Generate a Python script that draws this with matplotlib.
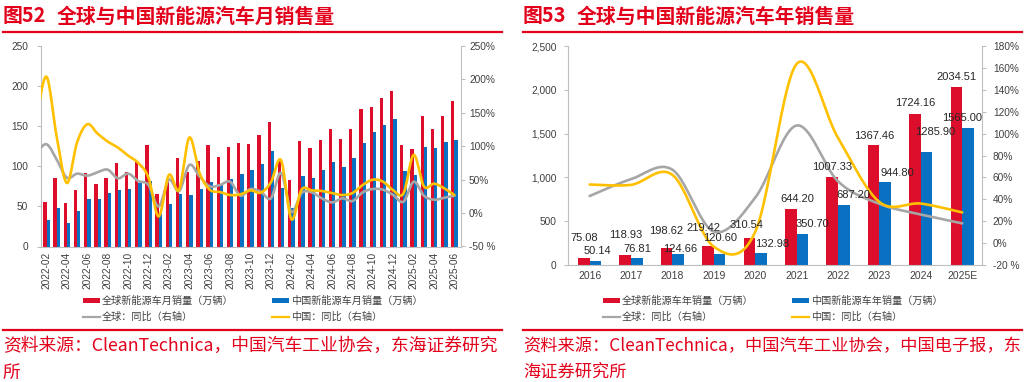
import matplotlib
matplotlib.use("Agg")
import matplotlib.pyplot as plt
import numpy as np
from matplotlib.patches import Rectangle
from matplotlib.lines import Line2D

# ---------------- data: monthly (left) ----------------
months = ["2022-02","2022-03","2022-04","2022-05","2022-06","2022-07","2022-08","2022-09","2022-10","2022-11","2022-12",
          "2023-01","2023-02","2023-03","2023-04","2023-05","2023-06","2023-07","2023-08","2023-09","2023-10","2023-11","2023-12",
          "2024-01","2024-02","2024-03","2024-04","2024-05","2024-06","2024-07","2024-08","2024-09","2024-10","2024-11","2024-12",
          "2025-01","2025-02","2025-03","2025-04","2025-05","2025-06"]
global_monthly = [55, 86, 54.5, 70, 92, 78, 85, 104, 93.5, 105, 126.5,
                  66, 84, 110, 93.5, 106, 126.5, 111, 123.5, 129, 128, 139, 155.5,
                  109, 83, 131.5, 122.5, 132.5, 146, 134.5, 147, 171.5, 174, 185, 193.5,
                  126.5, 121.5, 163, 146, 163, 182]
china_monthly = [33.4, 48.4, 29.9, 44.7, 59.6, 59.3, 66.6, 70.8, 71.4, 78.6, 81.4,
                 40.8, 52.5, 65.3, 63.6, 71.7, 80.6, 78.0, 84.6, 90.4, 95.6, 102.6, 119.1,
                 72.9, 47.7, 88.3, 85.0, 95.5, 104.9, 99.1, 110.0, 128.7, 143.2, 151.2, 159.6,
                 94.4, 89.2, 123.7, 122.6, 130.7, 132.9]
# YoY line series start one month earlier (2022-01); that point falls just outside the plot
yoy_months = ["2022-01"] + months
global_monthly_yoy = [90, 103, 80, 53, 59, 56, 61, 65, 52, 59, 48, 42,
                      10, 50, 33, 72, 55, 40, 42, 47, 26, 36, 32, 22,
                      60, 2, 30, 31, 22, 16, 22, 18, 31, 36, 35, 27,
                      17, 47, 26, 20, 23, 26]
china_monthly_yoy = [141, 204, 114, 45, 106, 133, 119, 107, 98, 86, 75, 53,
                     -5, 57, 35, 113, 60, 35, 31.5, 27, 28, 34, 30.5, 46,
                     79, -9, 35, 34, 33, 30, 27, 30, 42, 50, 47, 34,
                     29.5, 87, 40, 44, 37, 27]

# ---------------- data: annual (right) ----------------
years = ["2016","2017","2018","2019","2020","2021","2022","2023","2024","2025E"]
global_annual = [75.08, 118.93, 198.62, 219.42, 310.54, 644.20, 1007.33, 1367.46, 1724.16, 2034.51]
china_annual = [50.14, 76.81, 124.66, 120.60, 132.98, 350.70, 687.20, 944.80, 1285.90, 1565.00]
global_annual_yoy = [43, 58.4, 67, 10.5, 41.5, 107.4, 56.4, 35.8, 26.1, 18]
china_annual_yoy = [53.5, 53.2, 62.3, -3.3, 10.3, 163.7, 96, 37.5, 36.1, 28]

# label nudges in pixels (dx, dy above bar top)
red_lbl_dx = [0, 0, 0, -5, -3, 6, 0, 1, 0, 0]
red_lbl_dy = [20.5, 19.6, 16.6, 17.5, 12.8, 9.6, 10, 9, 10.6, 9.5]
blue_lbl_dx = [2, 1, 2, 0, 11, 10, 10, 12, 9, -6]
blue_lbl_dy = [10, 9, 5, 16, 9, 10, 10, 9.5, 20, 9.5]

RED = "#DC0E2B"
BLUE = "#0A70C2"
GRAY = "#A6A6A6"
YEL = "#FFC000"
TXT = "#404040"
TITLE_RED = "#E2001A"
CJK = ["Noto Sans CJK SC", "DejaVu Sans"]
NUM = ["Liberation Sans", "DejaVu Sans"]

W, H = 1026, 382
fig = plt.figure(figsize=(W / 100, H / 100), dpi=100)


def fx(px):
    return px / W


def fy(py):
    return 1 - py / H


def smooth(x, y, n=24):
    x = np.asarray(x, float)
    y = np.asarray(y, float)
    P = np.column_stack([x, y])
    out = []
    m = len(P)
    for i in range(m - 1):
        p0 = P[i - 1] if i > 0 else P[i]
        p1 = P[i]
        p2 = P[i + 1]
        p3 = P[i + 2] if i + 2 < m else P[i + 1]
        c1 = p1 + (p2 - p0) / 6.0
        c2 = p2 - (p3 - p1) / 6.0
        t = np.linspace(0, 1, n, endpoint=(i == m - 2))[:, None]
        seg = (1 - t) ** 3 * p1 + 3 * (1 - t) ** 2 * t * c1 + 3 * (1 - t) * t ** 2 * c2 + t ** 3 * p2
        out.append(seg)
    out = np.vstack(out)
    return out[:, 0], out[:, 1]


def style_axes(ax, ax2):
    for a in (ax, ax2):
        a.spines["top"].set_visible(False)
        for s in ("left", "right", "bottom"):
            a.spines[s].set_color("#BFBFBF")
            a.spines[s].set_linewidth(0.8)
    ax.spines["right"].set_visible(False)
    ax2.spines["left"].set_visible(False)
    ax2.spines["bottom"].set_visible(False)


# ================= LEFT PANEL =================
axL = fig.add_axes([fx(40.7), fy(246.5), fx(460.7 - 40.7), (246.5 - 46) / H])
axLr = axL.twinx()
xm = np.arange(len(months))
bw = 0.32
axL.bar(xm - bw / 2, global_monthly, bw, color=RED, zorder=2)
axL.bar(xm + bw / 2, china_monthly, bw, color=BLUE, zorder=2)
xlim = (-0.57, len(months) - 1 + 0.61)
axL.set_xlim(*xlim)
axL.set_ylim(0, 250)
axL.set_yticks(np.arange(0, 251, 50))
axL.set_xticks(xm[::2])
axL.set_xticklabels(months[::2], rotation=90, fontsize=7.3, color=TXT, family=NUM)
axL.tick_params(axis="x", length=0, pad=4)
axL.tick_params(axis="y", length=3, color="#BFBFBF", labelsize=7.3, labelcolor=TXT, pad=6)
for t in axL.get_yticklabels():
    t.set_family(NUM)

xl = np.arange(len(yoy_months)) - 1
gx, gy = smooth(xl, global_monthly_yoy)
cx, cy = smooth(xl, china_monthly_yoy)
axLr.plot(gx, gy, color=GRAY, lw=1.9, zorder=3, solid_capstyle="round")
axLr.plot(cx, cy, color=YEL, lw=1.9, zorder=4, solid_capstyle="round")
axLr.set_xlim(*xlim)
axLr.set_ylim(-50, 250)
axLr.set_yticks(np.arange(-50, 251, 50))
axLr.set_yticklabels(["-50 %"] + [f"{v}%" for v in range(0, 251, 50)])
axLr.tick_params(axis="y", length=3, color="#BFBFBF", labelsize=7.3, labelcolor=TXT, pad=3)
for t in axLr.get_yticklabels():
    t.set_family(NUM)
axL.set_zorder(1)
axLr.set_zorder(2)
axLr.patch.set_visible(False)
style_axes(axL, axLr)

# ================= RIGHT PANEL =================
axR = fig.add_axes([fx(567.7), fy(265), fx(981.7 - 567.7), (265 - 46) / H])
axRr = axR.twinx()
xy = np.arange(len(years))
bw2 = 0.28
axR.bar(xy - bw2 / 2, global_annual, bw2, color=RED, zorder=2)
axR.bar(xy + bw2 / 2, china_annual, bw2, color=BLUE, zorder=2)
axR.set_xlim(-0.53, len(years) - 1 + 0.47)
axR.set_ylim(0, 2500)
axR.set_yticks(np.arange(0, 2501, 500))
axR.set_yticklabels([f"{v:,}" for v in range(0, 2501, 500)])
axR.set_xticks(xy)
axR.set_xticklabels(years, fontsize=7.5, color=TXT, family=NUM)
axR.tick_params(axis="x", length=0, pad=4)
axR.tick_params(axis="y", length=3, color="#BFBFBF", labelsize=7.3, labelcolor=TXT, pad=5)
for t in axR.get_yticklabels():
    t.set_family(NUM)

gx2, gy2 = smooth(xy, global_annual_yoy)
cx2, cy2 = smooth(xy, china_annual_yoy)
axRr.plot(gx2, gy2, color=GRAY, lw=1.9, zorder=3, solid_capstyle="round")
axRr.plot(cx2, cy2, color=YEL, lw=1.9, zorder=4, solid_capstyle="round")
axRr.set_ylim(-20, 180)
axRr.set_yticks(np.arange(-20, 181, 20))
axRr.set_yticklabels(["-20 %"] + [f"{v}%" for v in range(0, 181, 20)])
axRr.tick_params(axis="y", length=3, color="#BFBFBF", labelsize=7.3, labelcolor=TXT, pad=5)
for t in axRr.get_yticklabels():
    t.set_family(NUM)
axR.set_zorder(1)
axRr.set_zorder(2)
axRr.patch.set_visible(False)
style_axes(axR, axRr)
axR.spines["bottom"].set_visible(True)

px2pt = 0.72
for i in range(len(years)):
    axRr.annotate(f"{global_annual[i]:.2f}", xy=(xy[i] - bw2 / 2, global_annual[i]), xycoords=axR.transData,
                  xytext=(red_lbl_dx[i] * px2pt, red_lbl_dy[i] * px2pt), textcoords="offset points",
                  ha="center", va="center", fontsize=8, color="#262626", family=NUM, zorder=6,
                  annotation_clip=False)
    axRr.annotate(f"{china_annual[i]:.2f}", xy=(xy[i] + bw2 / 2, china_annual[i]), xycoords=axR.transData,
                  xytext=(blue_lbl_dx[i] * px2pt, blue_lbl_dy[i] * px2pt), textcoords="offset points",
                  ha="center", va="center", fontsize=8, color="#262626", family=NUM, zorder=6,
                  annotation_clip=False)


# ================= titles, legends, sources =================
def panel_decor(x0, num, title, leg_labels, src_lines, src_size):
    fig.text(fx(x0 + 3), fy(16), num, fontsize=14.3, fontweight="bold", color=TITLE_RED,
             family=CJK, va="center", ha="left")
    fig.text(fx(x0 + 56.5), fy(16), title, fontsize=14.3, fontweight="bold", color=TITLE_RED,
             family=CJK, va="center", ha="left")
    fig.add_artist(Line2D([fx(x0 + 3), fx(x0 + 502)], [fy(31.5), fy(31.5)], color=TITLE_RED, lw=1.6))
    r1, r2 = 300.7, 316.7
    xa, xb = x0 + 83, x0 + 272
    fig.add_artist(Rectangle((fx(xa), fy(r1 + 2.5)), fx(17), 5 / H, color=RED, lw=0))
    fig.add_artist(Rectangle((fx(xb), fy(r1 + 2.5)), fx(17), 5 / H, color=BLUE, lw=0))
    fig.add_artist(Line2D([fx(xa), fx(xa + 17)], [fy(r2), fy(r2)], color=GRAY, lw=1.6))
    fig.add_artist(Line2D([fx(xb), fx(xb + 17)], [fy(r2), fy(r2)], color=YEL, lw=1.6))
    for (xx, yy), lab in zip([(xa, r1), (xb, r1), (xa, r2), (xb, r2)], leg_labels):
        fig.text(fx(xx + 19), fy(yy), lab, fontsize=7.3, color=TXT, family=CJK, va="center", ha="left")
    fig.add_artist(Line2D([fx(x0 + 3), fx(x0 + 502)], [fy(330), fy(330)], color=TITLE_RED, lw=1.6))
    fig.text(fx(x0 + 3), fy(346), src_lines[0], fontsize=src_size, color=TITLE_RED, family=CJK, va="center", ha="left")
    fig.text(fx(x0 + 3), fy(372.5), src_lines[1], fontsize=src_size, color=TITLE_RED, family=CJK, va="center", ha="left")


panel_decor(0, "图52", "全球与中国新能源汽车月销售量",
            ["全球新能源车月销量（万辆）", "中国新能源车月销量（万辆）", "全球：同比（右轴）", "中国：同比（右轴）"],
            ["资料来源：CleanTechnica，中国汽车工业协会，东海证券研究", "所"], 12.8)
panel_decor(520, "图53", "全球与中国新能源汽车年销售量",
            ["全球新能源车年销量（万辆）", "中国新能源车年销量（万辆）", "全球：同比（右轴）", "中国：同比（右轴）"],
            ["资料来源：CleanTechnica，中国汽车工业协会，中国电子报，东", "海证券研究所"], 12.4)

fig.savefig("out.png", dpi=100)
